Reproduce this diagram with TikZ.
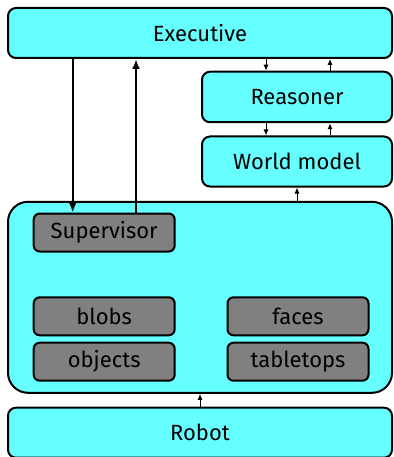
\documentclass[tikz,border=0pt]{standalone}
\usepackage{fontspec}
\setmainfont{Fira Sans}
\usepackage{tikz}
\usetikzlibrary{arrows.meta, positioning}
\usepackage{xcolor}
\definecolor{layercyan}{RGB}{102,255,255}
\definecolor{modgray}{RGB}{128,128,128}

\begin{document}
\begin{tikzpicture}[x=1pt, y=-1pt,
    layer/.style={draw=black, fill=layercyan, line width=2pt, rounded corners=8pt,
      inner sep=0pt, font=\fontsize{22}{26}\selectfont},
    module/.style={draw=black, fill=modgray, line width=2pt, rounded corners=6pt,
      inner sep=0pt, minimum width=141pt, minimum height=38pt,
      font=\fontsize{22}{26}\selectfont},
    bigarrow/.style={line width=2pt, -{Latex[length=10pt, width=8pt]}},
    tinyarrow/.style={line width=1pt, -{Latex[length=6pt, width=5pt]}}]
      \useasboundingbox (0,0) rectangle (393,457);
      \clip (0,0) rectangle (393,457);

      % layers
      \node[layer, minimum width=384pt, minimum height=50pt] (exec) at (200,33) {Executive};
      \node[layer, minimum width=190pt, minimum height=50.5pt] (reas) at (297,97) {Reasoner};
      \node[layer, minimum width=190pt, minimum height=50pt] (world) at (297,161.5) {World model};
      \node[layer, rounded corners=20pt, minimum width=384pt, minimum height=191pt]
        (percept) at (200,297.3) {};
      \node[layer, minimum width=384pt, minimum height=50pt] (robot) at (200,432.7) {Robot};

      % modules inside the perception layer
      \node[module] (sup) at (104.2,232.5) {Supervisor};
      \node[module] (blobs) at (104.2,316.3) {blobs};
      \node[module] (objects) at (104.2,361.7) {objects};
      \node[module] (faces) at (298,316.3) {faces};
      \node[module] (tabletops) at (298,361.7) {tabletops};

      \draw[bigarrow] ([xshift=-31.5pt]sup.north |- exec.south) -- ([xshift=-31.5pt]sup.north);
      \draw[bigarrow] ([xshift=31.8pt]sup.north) -- ([xshift=31.8pt]sup.north |- exec.south);

      \draw[tinyarrow] ([xshift=-31pt]reas.north |- exec.south) -- ([xshift=-31pt]reas.north);
      \draw[tinyarrow] ([xshift=33pt]reas.north) -- ([xshift=33pt]reas.north |- exec.south);
      \draw[tinyarrow] ([xshift=-31pt]world.north |- reas.south) -- ([xshift=-31pt]world.north);
      \draw[tinyarrow] ([xshift=33pt]world.north) -- ([xshift=33pt]world.north |- reas.south);
      \draw[tinyarrow] (percept.north -| world.south) -- (world.south);
      \draw[tinyarrow] (robot.north) -- (percept.south);
\end{tikzpicture}
\end{document}
